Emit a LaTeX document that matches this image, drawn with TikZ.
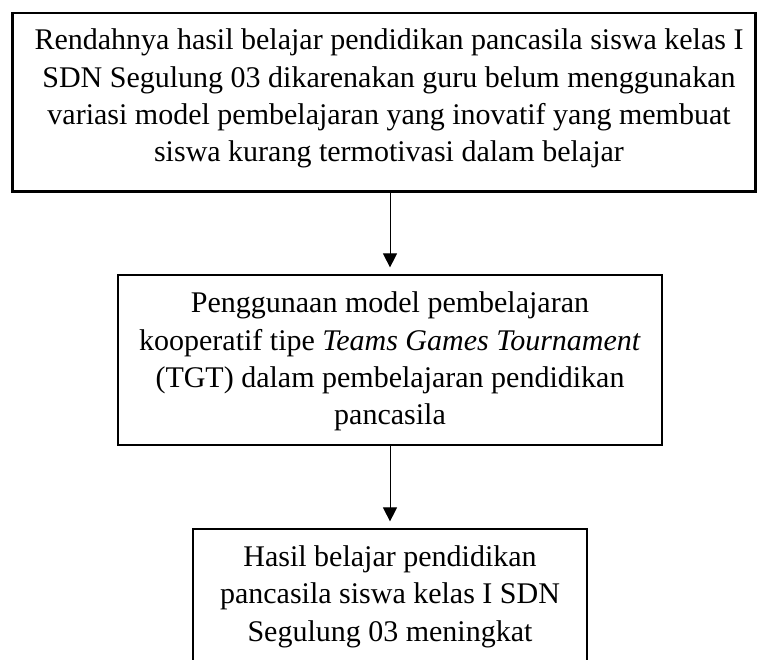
\documentclass[tikz,border=0pt]{standalone}
\usepackage{fontspec}
\setmainfont{Liberation Serif}
\usetikzlibrary{arrows.meta}
\tikzset{
  boxnode/.style={draw=black, line width=2.2pt, inner sep=0pt},
  txtnode/.style={inner sep=0pt, align=center, anchor=base,
    font=\fontsize{30pt}{37.2pt}\selectfont},
  arr/.style={line width=1pt, -{Triangle[length=14pt,width=14pt]}, shorten >=6.5pt}
}
\begin{document}
\begin{tikzpicture}[x=1pt,y=-1pt]
\useasboundingbox (0,0) rectangle (757,660);
\clip (0,0) rectangle (757,660);
% boxes
\node[boxnode, minimum width=743pt, minimum height=178.5pt] (b1) at (384,102.25) {};
\node[boxnode, minimum width=544pt, minimum height=170pt] (b2) at (390,360) {};
\node[boxnode, minimum width=394pt, minimum height=170pt] (b3) at (390,614) {};
% texts (base anchor = baseline of last line)
\node[txtnode] (t1) at (389,161.5) {Rendahnya hasil belajar pendidikan pancasila siswa kelas I\\SDN Segulung 03 dikarenakan guru belum menggunakan\\variasi model pembelajaran yang inovatif yang membuat\\siswa kurang termotivasi dalam belajar};
\node[txtnode] (t2) at (390,424.5) {Penggunaan model pembelajaran\\kooperatif tipe \textit{Teams Games Tournament}\\(TGT) dalam pembelajaran pendidikan\\pancasila};
\node[txtnode] (t3) at (390,641) {Hasil belajar pendidikan\\pancasila siswa kelas I SDN\\Segulung 03 meningkat};
% arrows
\draw[arr] (b1.south -| b2.north) -- (b2.north);
\draw[arr] (b2.south) -- (b3.north);
\end{tikzpicture}
\end{document}
